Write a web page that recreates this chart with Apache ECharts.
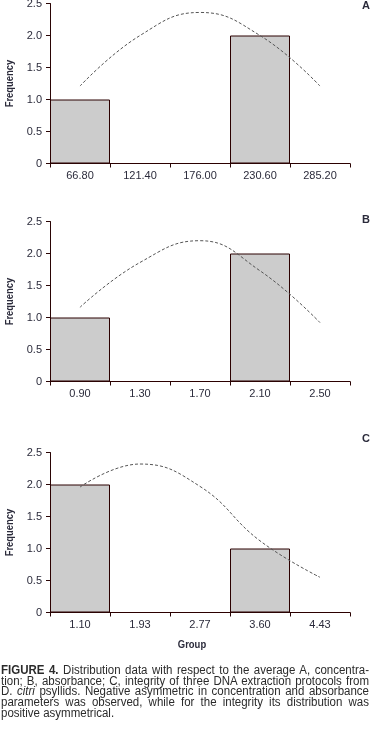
<!DOCTYPE html>
<html>
<head>
<meta charset="utf-8">
<script src="https://cdn.jsdelivr.net/npm/echarts@6/dist/echarts.min.js"></script>
<style>
  html, body { margin: 0; padding: 0; background: #fff; }
  #chart { position: absolute; left: 0; top: 0; width: 370px; height: 742px; }
  #caption {
    position: absolute; left: 1px; top: 665px; width: 400px;
    transform: scaleX(0.92); transform-origin: 0 0;
    font-family: 'Liberation Sans', Arial, sans-serif;
    font-size: 12.5px; line-height: 10.7px; color: #2b2b2b;
  }
  #caption div { text-align: justify; text-align-last: justify; white-space: nowrap; }
  #caption div.last { text-align-last: left; }
</style>
</head>
<body>
<div id="chart"></div>
<div id="caption">
  <div><b>FIGURE 4.</b> Distribution data with respect to the average A, concentra-</div>
  <div>tion; B, absorbance; C, integrity of three DNA extraction protocols from</div>
  <div>D. <i>citri</i> psyllids. Negative asymmetric in concentration and absorbance</div>
  <div>parameters was observed, while for the integrity its distribution was</div>
  <div class="last">positive asymmetrical.</div>
</div>
<script>
// categories (group labels)
var catsA = ['66.80', '121.40', '176.00', '230.60', '285.20'];
var catsB = ['0.90', '1.30', '1.70', '2.10', '2.50'];
var catsC = ['1.10', '1.93', '2.77', '3.60', '4.43'];
// frequencies
var freqA = [1, 0, 0, 2, 0];
var freqB = [1, 0, 0, 2, 0];
var freqC = [2, 0, 0, 1, 0];
// normal curve (dashed)
var curveA = [1.21, 2.0, 2.36, 2.0, 1.21];
var curveB = [1.16, 1.86, 2.20, 1.73, 0.92];
var curveC = [1.96, 2.32, 1.97, 1.12, 0.55];
var panels = ['A', 'B', 'C'];

var FONT = "'Liberation Sans', Arial, sans-serif";
var axisCol = '#2a0505';
var txtCol = '#2b2b3b';

var grids = [
  { left: 50, top: 3.5, width: 300, height: 160, outerBoundsMode: 'none' },
  { left: 50, top: 221.5, width: 300, height: 160, outerBoundsMode: 'none' },
  { left: 50, top: 452.5, width: 300, height: 160, outerBoundsMode: 'none' }
];
var cats = [catsA, catsB, catsC];
var freqs = [freqA, freqB, freqC];
var curves = [curveA, curveB, curveC];
var letterTop = [0, 214, 433];

var myChart = echarts.init(document.getElementById('chart'));

var xAxes = [], yAxes = [], series = [], graphic = [];
for (var i = 0; i < 3; i++) {
  xAxes.push({
    type: 'category',
    gridIndex: i,
    data: cats[i],
    boundaryGap: true,
    axisLine: { lineStyle: { color: axisCol, width: 1 } },
    axisTick: { show: true, length: 4, interval: 0, lineStyle: { color: axisCol } },
    axisLabel: { interval: 0, margin: 7, fontFamily: FONT, fontSize: 11, color: txtCol },
    splitLine: { show: false }
  });
  yAxes.push({
    type: 'value',
    gridIndex: i,
    min: 0, max: 2.5, interval: 0.5,
    axisLine: { show: true, lineStyle: { color: axisCol, width: 1 } },
    axisTick: { show: true, length: 4, lineStyle: { color: axisCol } },
    axisLabel: {
      margin: 8, fontFamily: FONT, fontSize: 11, color: txtCol,
      formatter: function (v) { return v === 0 ? '0' : v.toFixed(1); }
    },
    splitLine: { show: false }
  });
  series.push({
    type: 'bar',
    xAxisIndex: i, yAxisIndex: i,
    data: freqs[i],
    barCategoryGap: '0%',
    itemStyle: { color: '#cccccc', borderColor: '#2b0000', borderWidth: 1 },
    silent: true
  });
  series.push({
    type: 'line',
    xAxisIndex: i, yAxisIndex: i,
    data: curves[i],
    smooth: 0.45,
    showSymbol: false,
    lineStyle: { color: '#555555', width: 1, type: [3, 2] },
    silent: true,
    z: 5
  });
  // panel letter
  graphic.push({
    type: 'text', x: 362, y: letterTop[i],
    style: { text: panels[i], font: 'bold 11px ' + FONT, fill: txtCol }
  });
  // y axis title
  graphic.push({
    type: 'text',
    x: 10, y: grids[i].top + grids[i].height / 2,
    rotation: Math.PI / 2, scaleX: 0.82,
    style: { text: 'Frequency', font: 'bold 11.5px ' + FONT, fill: txtCol, align: 'center', verticalAlign: 'middle' }
  });
}
// x axis title
graphic.push({
  type: 'text', x: 192, y: 645, scaleX: 0.82,
  style: { text: 'Group', font: 'bold 11.5px ' + FONT, fill: txtCol, align: 'center', verticalAlign: 'middle' }
});

myChart.setOption({
  animation: false,
  grid: grids,
  xAxis: xAxes,
  yAxis: yAxes,
  series: series,
  graphic: graphic
});
</script>
</body>
</html>
